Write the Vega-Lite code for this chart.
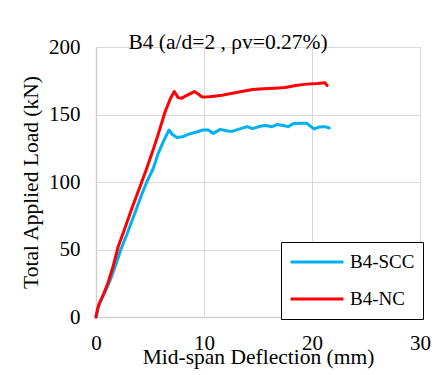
{
  "$schema": "https://vega.github.io/schema/vega-lite/v6.json",
  "width": 324,
  "height": 270,
  "autosize": {"type": "none"},
  "padding": {"left": 96, "top": 47, "right": 19, "bottom": 58},
  "background": "white",
  "title": {
    "text": "B4 (a/d=2 , ρv=0.27%)",
    "font": "'Liberation Serif', 'Times New Roman', serif",
    "fontSize": 21.5,
    "fontWeight": "normal",
    "color": "#000000",
    "anchor": "middle",
    "frame": "group",
    "dx": -30,
    "offset": -34,
    "baseline": "alphabetic"
  },
  "data": {
    "values": [
      {"series": "B4-SCC", "deflection": 0, "load": 0},
      {"series": "B4-SCC", "deflection": 0.2, "load": 7},
      {"series": "B4-SCC", "deflection": 0.4, "load": 11},
      {"series": "B4-SCC", "deflection": 0.8, "load": 18},
      {"series": "B4-SCC", "deflection": 1.25, "load": 26},
      {"series": "B4-SCC", "deflection": 1.8, "load": 38},
      {"series": "B4-SCC", "deflection": 2.3, "load": 50},
      {"series": "B4-SCC", "deflection": 2.9, "load": 62},
      {"series": "B4-SCC", "deflection": 3.6, "load": 77},
      {"series": "B4-SCC", "deflection": 4.2, "load": 90},
      {"series": "B4-SCC", "deflection": 4.7, "load": 100},
      {"series": "B4-SCC", "deflection": 5.3, "load": 110},
      {"series": "B4-SCC", "deflection": 5.8, "load": 122},
      {"series": "B4-SCC", "deflection": 6.3, "load": 131},
      {"series": "B4-SCC", "deflection": 6.75, "load": 138.5},
      {"series": "B4-SCC", "deflection": 7.1, "load": 135},
      {"series": "B4-SCC", "deflection": 7.5, "load": 133},
      {"series": "B4-SCC", "deflection": 8.0, "load": 133.5},
      {"series": "B4-SCC", "deflection": 8.6, "load": 135.5},
      {"series": "B4-SCC", "deflection": 9.3, "load": 137},
      {"series": "B4-SCC", "deflection": 9.9, "load": 138.5},
      {"series": "B4-SCC", "deflection": 10.4, "load": 138.5},
      {"series": "B4-SCC", "deflection": 10.86, "load": 136},
      {"series": "B4-SCC", "deflection": 11.5, "load": 139},
      {"series": "B4-SCC", "deflection": 12.2, "load": 137.8},
      {"series": "B4-SCC", "deflection": 12.6, "load": 137.5},
      {"series": "B4-SCC", "deflection": 13.4, "load": 139.5},
      {"series": "B4-SCC", "deflection": 14.0, "load": 141},
      {"series": "B4-SCC", "deflection": 14.5, "load": 139.5},
      {"series": "B4-SCC", "deflection": 15.2, "load": 141.3},
      {"series": "B4-SCC", "deflection": 15.7, "load": 141.8},
      {"series": "B4-SCC", "deflection": 16.3, "load": 141},
      {"series": "B4-SCC", "deflection": 16.8, "load": 142.6},
      {"series": "B4-SCC", "deflection": 17.3, "load": 141.8},
      {"series": "B4-SCC", "deflection": 17.8, "load": 141},
      {"series": "B4-SCC", "deflection": 18.3, "load": 143.3},
      {"series": "B4-SCC", "deflection": 19.0, "load": 143.5},
      {"series": "B4-SCC", "deflection": 19.5, "load": 143.6},
      {"series": "B4-SCC", "deflection": 19.9, "load": 141},
      {"series": "B4-SCC", "deflection": 20.2, "load": 139.3},
      {"series": "B4-SCC", "deflection": 20.7, "load": 140.8},
      {"series": "B4-SCC", "deflection": 21.2, "load": 141},
      {"series": "B4-SCC", "deflection": 21.6, "load": 140},
      {"series": "B4-NC", "deflection": 0, "load": 0},
      {"series": "B4-NC", "deflection": 0.15, "load": 6},
      {"series": "B4-NC", "deflection": 0.3, "load": 10},
      {"series": "B4-NC", "deflection": 0.7, "load": 17},
      {"series": "B4-NC", "deflection": 1.1, "load": 25},
      {"series": "B4-NC", "deflection": 1.6, "load": 38},
      {"series": "B4-NC", "deflection": 2.05, "load": 52},
      {"series": "B4-NC", "deflection": 2.6, "load": 64},
      {"series": "B4-NC", "deflection": 3.3, "load": 80},
      {"series": "B4-NC", "deflection": 4.0, "load": 95},
      {"series": "B4-NC", "deflection": 4.6, "load": 108},
      {"series": "B4-NC", "deflection": 5.3, "load": 124},
      {"series": "B4-NC", "deflection": 5.9, "load": 139},
      {"series": "B4-NC", "deflection": 6.4, "load": 152},
      {"series": "B4-NC", "deflection": 6.9, "load": 162},
      {"series": "B4-NC", "deflection": 7.25, "load": 167},
      {"series": "B4-NC", "deflection": 7.6, "load": 162.5},
      {"series": "B4-NC", "deflection": 7.9, "load": 162},
      {"series": "B4-NC", "deflection": 8.5, "load": 164.5},
      {"series": "B4-NC", "deflection": 9.1, "load": 167},
      {"series": "B4-NC", "deflection": 9.5, "load": 165},
      {"series": "B4-NC", "deflection": 9.8, "load": 163},
      {"series": "B4-NC", "deflection": 10.5, "load": 163.2},
      {"series": "B4-NC", "deflection": 11.5, "load": 164},
      {"series": "B4-NC", "deflection": 12.5, "load": 165.5},
      {"series": "B4-NC", "deflection": 13.5, "load": 167},
      {"series": "B4-NC", "deflection": 14.5, "load": 168.5},
      {"series": "B4-NC", "deflection": 15.5, "load": 169},
      {"series": "B4-NC", "deflection": 16.5, "load": 169.5},
      {"series": "B4-NC", "deflection": 17.5, "load": 170},
      {"series": "B4-NC", "deflection": 18.5, "load": 171.5},
      {"series": "B4-NC", "deflection": 19.5, "load": 172.5},
      {"series": "B4-NC", "deflection": 20.5, "load": 173},
      {"series": "B4-NC", "deflection": 21.2, "load": 173.5},
      {"series": "B4-NC", "deflection": 21.4, "load": 171.5}
    ]
  },
  "mark": {"type": "line", "strokeWidth": 3, "strokeJoin": "round", "strokeCap": "round"},
  "encoding": {
    "x": {
      "field": "deflection",
      "type": "quantitative",
      "scale": {"domain": [0, 30], "nice": false},
      "axis": {
        "title": "Mid-span Deflection (mm)",
        "values": [0, 10, 20, 30],
        "ticks": false,
        "labelFlush": false,
        "labelPadding": 15,
        "titleY": 46,
        "titleBaseline": "alphabetic"
      }
    },
    "y": {
      "field": "load",
      "type": "quantitative",
      "scale": {"domain": [0, 200], "nice": false},
      "axis": {
        "title": "Total Applied Load (kN)",
        "values": [0, 50, 100, 150, 200],
        "ticks": false,
        "labelFlush": false,
        "labelPadding": 16,
        "titleX": -65,
        "titleBaseline": "middle"
      }
    },
    "color": {
      "field": "series",
      "type": "nominal",
      "sort": ["B4-SCC", "B4-NC"],
      "scale": {"domain": ["B4-SCC", "B4-NC"], "range": ["#00b0f0", "#ff0000"]},
      "legend": {
        "title": null,
        "orient": "none",
        "legendX": 185,
        "legendY": 195,
        "symbolType": "stroke",
        "symbolSize": 2800,
        "symbolStrokeWidth": 3,
        "clipHeight": 24,
        "rowPadding": 13,
        "labelOffset": 5,
        "padding": 8,
        "strokeColor": "#000000",
        "fillColor": "#ffffff",
        "labelFont": "'Liberation Serif', 'Times New Roman', serif",
        "labelFontSize": 19,
        "labelColor": "#000000"
      }
    }
  },
  "config": {
    "view": {"stroke": "#d9d9d9", "strokeWidth": 1},
    "axis": {
      "labelFont": "'Liberation Serif', 'Times New Roman', serif",
      "labelFontSize": 21,
      "labelColor": "#000000",
      "titleFont": "'Liberation Serif', 'Times New Roman', serif",
      "titleFontSize": 21.5,
      "titleFontWeight": "normal",
      "titleColor": "#000000",
      "gridColor": "#d9d9d9",
      "gridWidth": 1,
      "domainColor": "#d0d0d0",
      "domainWidth": 1.5
    }
  }
}
